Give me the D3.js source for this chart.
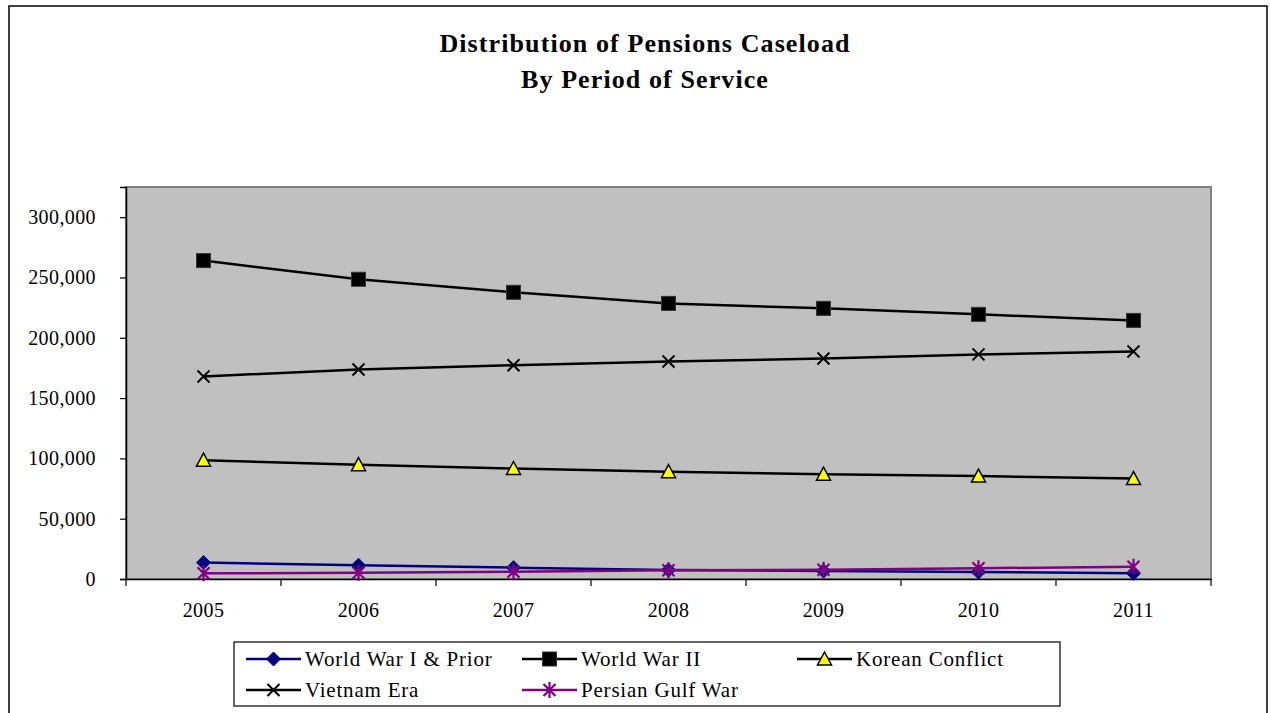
<!DOCTYPE html>
<html>
<head>
<meta charset="utf-8">
<script src="https://cdn.jsdelivr.net/npm/d3@7"></script>
<style>
  html, body { margin: 0; padding: 0; background: #fff; }
  svg { display: block; }
  text { font-family: "Liberation Serif", "DejaVu Serif", serif; fill: #000; }
</style>
</head>
<body>
<svg id="chart" width="1270" height="713"></svg>
<script>
// Pension caseload by period of service, 2005-2011
const years = ["2005", "2006", "2007", "2008", "2009", "2010", "2011"];
const worldWarI   = [13600, 11400, 9400, 7500, 6600, 5800, 4700];
const worldWarII  = [264000, 248500, 237700, 228500, 224400, 219400, 214400];
const korean      = [98500, 94800, 91600, 89000, 86900, 85300, 83300];
const vietnam     = [167900, 173700, 177200, 180300, 182800, 186200, 188600];
const persianGulf = [4700, 5200, 6100, 7200, 7700, 8900, 10200];
const yTicks = [0, 50000, 100000, 150000, 200000, 250000, 300000];
const titleLines = ["Distribution of Pensions Caseload", "By Period of Service"];

const series = [
  { name: "World War I & Prior", values: worldWarI,   line: "#000080", marker: "diamond",  fill: "#000080", stroke: "#000080" },
  { name: "World War II",        values: worldWarII,  line: "#000000", marker: "square",   fill: "#000000", stroke: "#000000" },
  { name: "Korean Conflict",     values: korean,      line: "#000000", marker: "triangle", fill: "#ffff00", stroke: "#000000" },
  { name: "Vietnam Era",         values: vietnam,     line: "#000000", marker: "x",        fill: "none",    stroke: "#000000" },
  { name: "Persian Gulf War",    values: persianGulf, line: "#800080", marker: "star",     fill: "none",    stroke: "#800080" }
];

const svg = d3.select("#chart");

// chart frame
svg.append("rect").attr("x", 9).attr("y", 6).attr("width", 1258).attr("height", 720)
  .attr("fill", "#fff").attr("stroke", "#000").attr("stroke-width", 1.5);

// title
const title = svg.append("text").attr("text-anchor", "middle")
  .style("font-size", "26px").style("font-weight", "bold").style("letter-spacing", "1.1px");
titleLines.forEach((t, i) => {
  title.append("tspan").attr("x", 645).attr("y", 52 + i * 36).text(t);
});

const plot = { left: 126, right: 1211, top: 187, bottom: 579 };

const x = d3.scaleBand().domain(years).range([plot.left, plot.right]).padding(0);
const y = d3.scaleLinear().domain([0, 325000]).range([plot.bottom, plot.top]);

// plot area
svg.append("rect")
  .attr("x", plot.left).attr("y", plot.top)
  .attr("width", plot.right - plot.left).attr("height", plot.bottom - plot.top)
  .attr("fill", "#c0c0c0").attr("stroke", "#808080").attr("stroke-width", 2);

const tickFont = sel => sel.style("font-size", "20px").style("letter-spacing", "0.4px")
  .style("font-family", "'Liberation Serif', serif");

// y axis
const yAxis = svg.append("g").attr("transform", `translate(${plot.left},0)`)
  .call(d3.axisLeft(y).tickValues(yTicks).tickFormat(d3.format(",")).tickSizeOuter(0).tickSize(6).tickPadding(24));
yAxis.select(".domain").attr("stroke", "#000").attr("stroke-width", 1.5);
yAxis.selectAll(".tick line").attr("stroke", "#000").attr("stroke-width", 1.2);
yAxis.selectAll(".tick text").call(tickFont);

// x axis with ticks at category boundaries
const xAxis = svg.append("g").attr("transform", `translate(0,${plot.bottom})`)
  .call(d3.axisBottom(x).tickSize(0).tickPadding(24));
xAxis.select(".domain").attr("stroke", "#000").attr("stroke-width", 1.5);
xAxis.selectAll(".tick text").call(tickFont);
const boundaries = years.map(d => x(d)).concat([x(years[years.length - 1]) + x.bandwidth()]);
xAxis.selectAll("line.boundary").data(boundaries).enter().append("line")
  .attr("class", "boundary")
  .attr("x1", d => d).attr("x2", d => d).attr("y1", 0).attr("y2", 7)
  .attr("stroke", "#000").attr("stroke-width", 1.2);

// marker shapes
function drawMarker(g, type, cx, cy, fill, stroke) {
  const s = 7;
  if (type === "diamond") {
    g.append("path").attr("d", `M${cx},${cy - s}L${cx + s},${cy}L${cx},${cy + s}L${cx - s},${cy}Z`)
      .attr("fill", fill).attr("stroke", stroke).attr("stroke-width", 1);
  } else if (type === "square") {
    g.append("rect").attr("x", cx - 7).attr("y", cy - 7).attr("width", 14).attr("height", 14)
      .attr("fill", fill).attr("stroke", "#333").attr("stroke-width", 1);
  } else if (type === "triangle") {
    g.append("path").attr("d", `M${cx},${cy - 7}L${cx + 7},${cy + 6}L${cx - 7},${cy + 6}Z`)
      .attr("fill", fill).attr("stroke", stroke).attr("stroke-width", 1.5);
  } else if (type === "x") {
    g.append("path").attr("d", `M${cx - 6},${cy - 6}L${cx + 6},${cy + 6}M${cx - 6},${cy + 6}L${cx + 6},${cy - 6}`)
      .attr("stroke", stroke).attr("stroke-width", 2).attr("fill", "none");
  } else if (type === "star") {
    g.append("path").attr("d",
      `M${cx - 6},${cy - 6}L${cx + 6},${cy + 6}M${cx - 6},${cy + 6}L${cx + 6},${cy - 6}M${cx},${cy - 8}L${cx},${cy + 8}`)
      .attr("stroke", stroke).attr("stroke-width", 2.2).attr("fill", "none");
  }
}

const line = d3.line().x((d, i) => x(years[i]) + x.bandwidth() / 2).y(d => y(d));

series.forEach(s => {
  const g = svg.append("g");
  g.append("path").datum(s.values).attr("d", line)
    .attr("fill", "none").attr("stroke", s.line).attr("stroke-width", 2.5);
  s.values.forEach((v, i) => drawMarker(g, s.marker, x(years[i]) + x.bandwidth() / 2, y(v), s.fill, s.stroke));
});

// legend
const legend = svg.append("g");
legend.append("rect").attr("x", 234).attr("y", 642).attr("width", 826).attr("height", 64)
  .attr("fill", "#fff").attr("stroke", "#000").attr("stroke-width", 1.2);
const legendPos = [
  { x: 246, y: 659 }, { x: 522, y: 659 }, { x: 797, y: 659 },
  { x: 246, y: 690 }, { x: 522, y: 690 }
];
series.forEach((s, i) => {
  const p = legendPos[i];
  const g = legend.append("g");
  g.append("line").attr("x1", p.x).attr("x2", p.x + 55).attr("y1", p.y).attr("y2", p.y)
    .attr("stroke", s.line).attr("stroke-width", 2.5);
  drawMarker(g, s.marker, p.x + 27.5, p.y, s.fill, s.stroke);
  g.append("text").attr("x", p.x + 59).attr("y", p.y).attr("dy", "0.35em")
    .style("font-size", "21px").style("letter-spacing", "0.8px").text(s.name);
});
</script>
</body>
</html>
